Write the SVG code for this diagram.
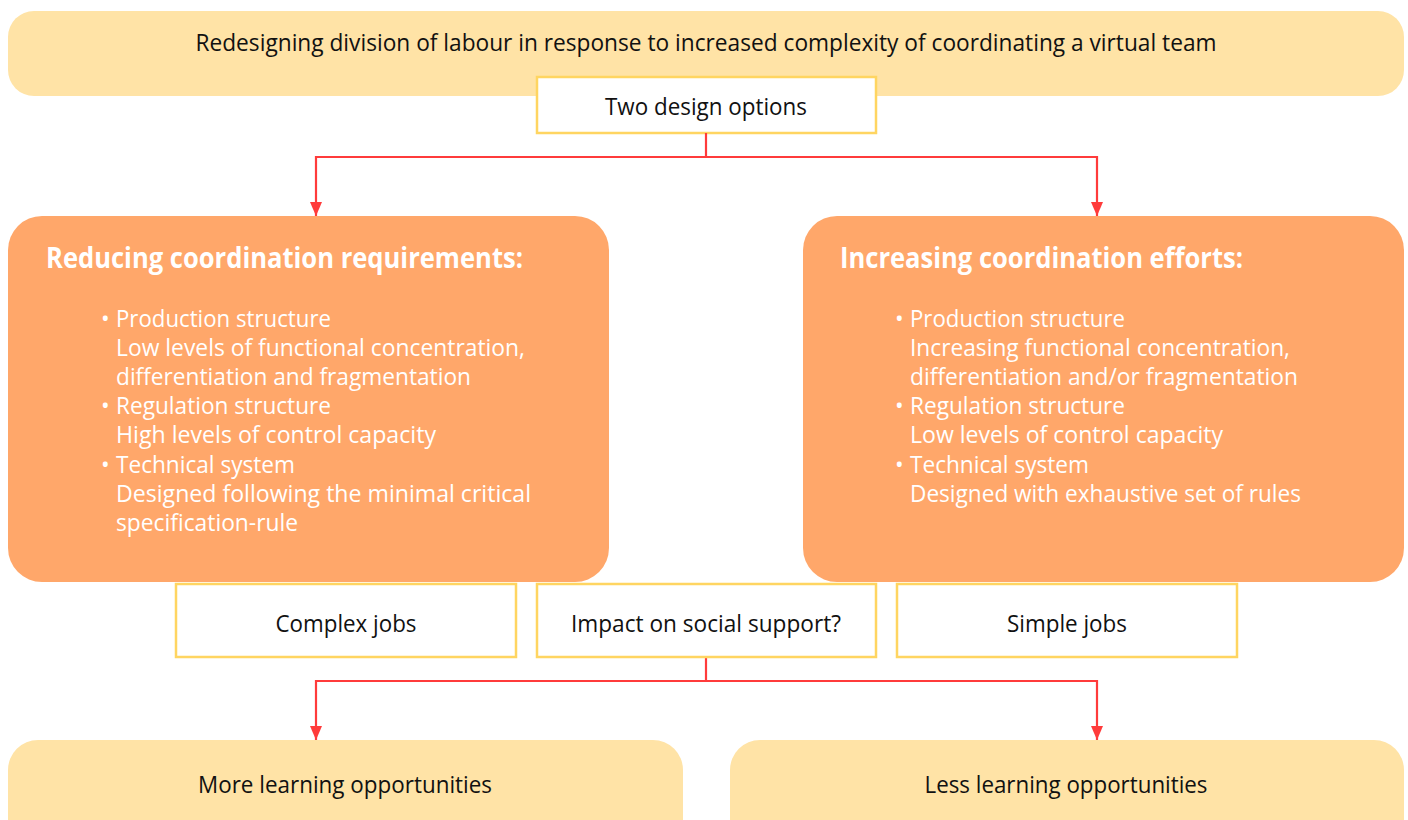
<svg xmlns="http://www.w3.org/2000/svg" width="1408" height="820" viewBox="0 0 1408 820">
  <style>
    .pale { fill: #FFE3A6; }
    .orange { fill: #FFA76A; }
    .label { fill: #FFFFFF; stroke: #FFD561; stroke-width: 2.5; }
    .t { font-family: "Open Sans", "Noto Sans", sans-serif; font-size: 23px; fill: #111111; }
    .w { font-family: "Open Sans", "Noto Sans", sans-serif; font-size: 23px; fill: #FFFFFF; }
    .h { font-family: "Open Sans", "Noto Sans", sans-serif; font-size: 28px; font-weight: 700; fill: #FFFFFF; }
    .link { fill: none; stroke: #FF3B3B; stroke-width: 2.2; }
  </style>
  <defs>
    <marker id="arrow" viewBox="0 0 14 12" refX="14" refY="6" markerWidth="14" markerHeight="12" markerUnits="userSpaceOnUse" orient="auto">
      <path d="M0,0 L14,6 L0,12 Z" fill="#FF3B3B"/>
    </marker>
  </defs>

  <rect width="1408" height="820" fill="#FFFFFF"/>

  <g id="header">
    <rect class="pale" x="8" y="11" width="1396" height="85" rx="26"/>
    <text class="t" x="706" y="51" text-anchor="middle" textLength="1021" lengthAdjust="spacingAndGlyphs">Redesigning division of labour in response to increased complexity of coordinating a virtual team</text>
  </g>

  <g id="design-options">
    <rect class="label" x="537" y="77" width="339" height="56"/>
    <text class="t" x="706" y="115" text-anchor="middle" textLength="202" lengthAdjust="spacingAndGlyphs">Two design options</text>
  </g>

  <g id="connectors">
    <path class="link" d="M706,133 V157 H316 V216" marker-end="url(#arrow)"/>
    <path class="link" d="M706,157 H1097 V216" marker-end="url(#arrow)"/>
    <path class="link" d="M706,657 V681 H316 V740" marker-end="url(#arrow)"/>
    <path class="link" d="M706,681 H1097 V740" marker-end="url(#arrow)"/>
  </g>

  <g id="reducing">
    <rect class="orange" x="8" y="216" width="601" height="366" rx="34"/>
    <text class="h" x="46" y="268" textLength="477" lengthAdjust="spacingAndGlyphs">Reducing coordination requirements:</text>
    <text class="w" x="101" y="327">•</text>
    <text class="w" x="116" y="327" textLength="215" lengthAdjust="spacingAndGlyphs">Production structure</text>
    <text class="w" x="116" y="356" textLength="409" lengthAdjust="spacingAndGlyphs">Low levels of functional concentration,</text>
    <text class="w" x="116" y="385" textLength="355" lengthAdjust="spacingAndGlyphs">differentiation and fragmentation</text>
    <text class="w" x="101" y="414">•</text>
    <text class="w" x="116" y="414" textLength="215" lengthAdjust="spacingAndGlyphs">Regulation structure</text>
    <text class="w" x="116" y="443" textLength="320" lengthAdjust="spacingAndGlyphs">High levels of control capacity</text>
    <text class="w" x="101" y="473">•</text>
    <text class="w" x="116" y="473" textLength="179" lengthAdjust="spacingAndGlyphs">Technical system</text>
    <text class="w" x="116" y="502" textLength="415" lengthAdjust="spacingAndGlyphs">Designed following the minimal critical</text>
    <text class="w" x="116" y="531" textLength="182" lengthAdjust="spacingAndGlyphs">specification-rule</text>
  </g>

  <g id="increasing">
    <rect class="orange" x="803" y="216" width="601" height="366" rx="34"/>
    <text class="h" x="840" y="268" textLength="403" lengthAdjust="spacingAndGlyphs">Increasing coordination efforts:</text>
    <text class="w" x="895" y="327">•</text>
    <text class="w" x="910" y="327" textLength="215" lengthAdjust="spacingAndGlyphs">Production structure</text>
    <text class="w" x="910" y="356" textLength="380" lengthAdjust="spacingAndGlyphs">Increasing functional concentration,</text>
    <text class="w" x="910" y="385" textLength="388" lengthAdjust="spacingAndGlyphs">differentiation and/or fragmentation</text>
    <text class="w" x="895" y="414">•</text>
    <text class="w" x="910" y="414" textLength="215" lengthAdjust="spacingAndGlyphs">Regulation structure</text>
    <text class="w" x="910" y="443" textLength="313" lengthAdjust="spacingAndGlyphs">Low levels of control capacity</text>
    <text class="w" x="895" y="473">•</text>
    <text class="w" x="910" y="473" textLength="179" lengthAdjust="spacingAndGlyphs">Technical system</text>
    <text class="w" x="910" y="502" textLength="391" lengthAdjust="spacingAndGlyphs">Designed with exhaustive set of rules</text>
  </g>

  <g id="complex-jobs">
    <rect class="label" x="176" y="584" width="340" height="73"/>
    <text class="t" x="346" y="632" text-anchor="middle" textLength="141" lengthAdjust="spacingAndGlyphs">Complex jobs</text>
  </g>

  <g id="social-support">
    <rect class="label" x="537" y="584" width="339" height="73"/>
    <text class="t" x="706" y="632" text-anchor="middle" textLength="270" lengthAdjust="spacingAndGlyphs">Impact on social support?</text>
  </g>

  <g id="simple-jobs">
    <rect class="label" x="897" y="584" width="340" height="73"/>
    <text class="t" x="1067" y="632" text-anchor="middle" textLength="120" lengthAdjust="spacingAndGlyphs">Simple jobs</text>
  </g>

  <g id="more-learning">
    <rect class="pale" x="8" y="740" width="675" height="120" rx="30"/>
    <text class="t" x="345" y="793" text-anchor="middle" textLength="294" lengthAdjust="spacingAndGlyphs">More learning opportunities</text>
  </g>

  <g id="less-learning">
    <rect class="pale" x="730" y="740" width="674" height="120" rx="30"/>
    <text class="t" x="1066" y="793" text-anchor="middle" textLength="283" lengthAdjust="spacingAndGlyphs">Less learning opportunities</text>
  </g>
</svg>
